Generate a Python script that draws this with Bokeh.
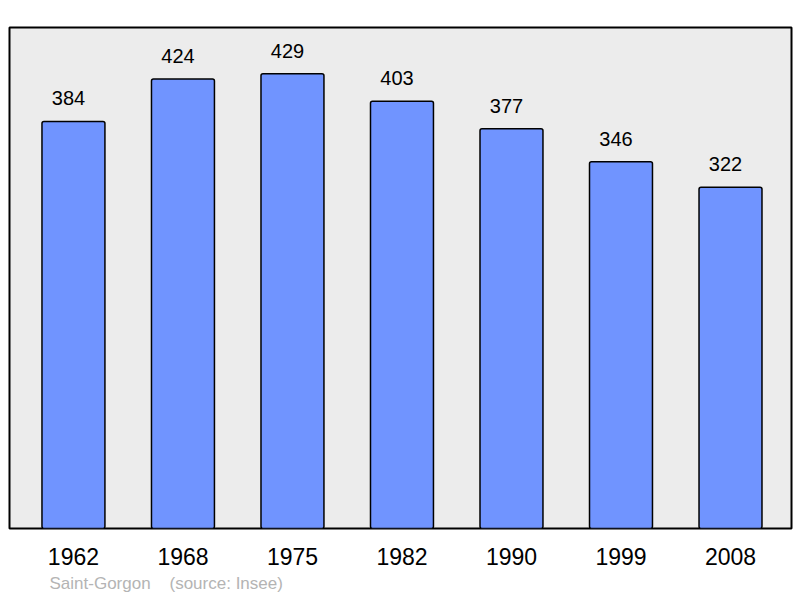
from bokeh.plotting import figure
from bokeh.models import Range1d, FixedTicker, Title, ColumnDataSource
from bokeh.core.properties import value
from bokeh.embed import file_html
from bokeh.resources import INLINE

years = ["1962", "1968", "1975", "1982", "1990", "1999", "2008"]
population = [384, 424, 429, 403, 377, 346, 322]
commune = "Saint-Gorgon"
source_note = "(source: Insee)"

pos = list(range(len(years)))
src = ColumnDataSource(dict(x=pos, top=population, lbl=[str(v) for v in population]))

p = figure(frame_width=782, frame_height=501, output_backend="svg", toolbar_location=None,
           x_range=Range1d(-0.584, 6.557), y_range=Range1d(0, 472.6),
           min_border_left=9, min_border_right=9, min_border_top=27, min_border_bottom=0)
p.background_fill_color = "#ececec"
p.border_fill_color = "white"
p.outline_line_color = "black"
p.outline_line_width = 2
p.xgrid.visible = False
p.ygrid.visible = False
p.yaxis.visible = False

p.vbar(x="x", top="top", width=0.575, bottom=0, source=src,
       fill_color="#7094ff", line_color="black", line_width=1.5, border_radius=2)
p.text(x="x", y="top", text="lbl", source=src, y_offset=-23, x_offset=-5,
       text_align="center", text_baseline="alphabetic",
       text_font=value("Liberation Sans"), text_font_size="20px", text_color="black")

ax = p.xaxis[0]
ax.ticker = FixedTicker(ticks=pos)
ax.major_label_overrides = {i: y for i, y in zip(pos, years)}
ax.axis_line_color = None
ax.major_tick_line_color = None
ax.minor_tick_line_color = None
ax.major_label_text_font = "Liberation Sans"
ax.major_label_text_font_size = "23px"
ax.major_label_text_color = "black"
ax.major_label_standoff = 13

footer = Title(text=commune + "\u00a0" * 3 + " " + source_note, align="left", offset=40,
               text_font="Liberation Sans", text_font_size="17px", text_font_style="normal",
               text_color="#b4b4b4", standoff=8)
p.add_layout(footer, "below")

open("out.html", "w").write(file_html(p, INLINE))
